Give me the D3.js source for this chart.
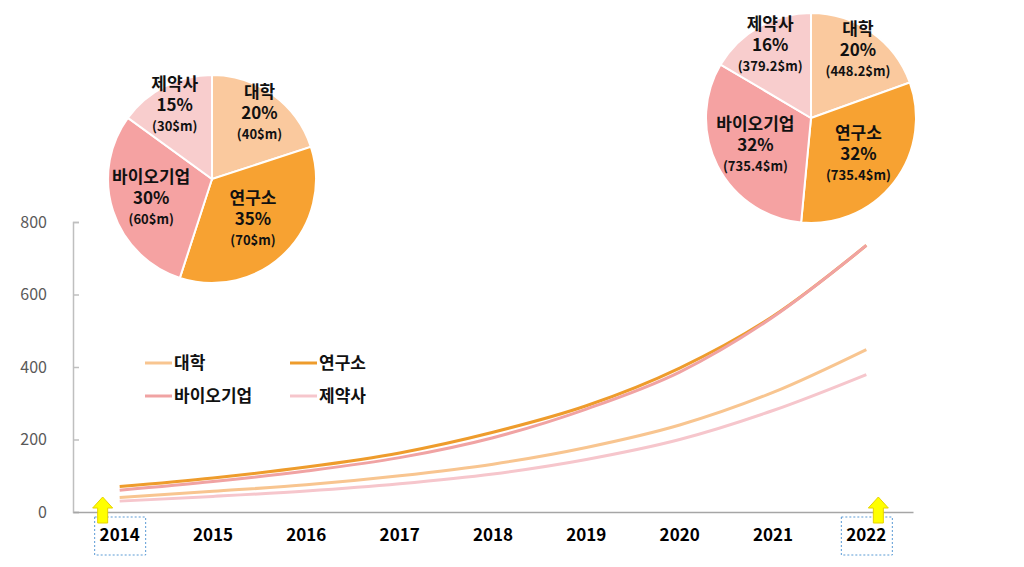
<!DOCTYPE html>
<html><head><meta charset="utf-8">
<script src="https://cdn.jsdelivr.net/npm/d3@7"></script>
<style>body{margin:0;background:#fff}svg{display:block}</style>
</head><body><svg id="c" width="1024" height="567"></svg>
<script>
const years = ["2014","2015","2016","2017","2018","2019","2020","2021","2022"];
const seriesNames = ["대학","연구소","바이오기업","제약사"];
const univ = [40, 57, 75, 100, 132, 178, 240, 330, 448.2];
const inst = [70, 94, 124, 163, 220, 293, 397, 540, 735.4];
const bio  = [60, 84, 113, 150, 205, 284, 386, 538, 735.4];
const pharm= [30, 43, 58, 78, 105, 145, 200, 280, 379.2];
const yTicks = [0, 200, 400, 600, 800];
const pie2014 = [40, 70, 60, 30];
const pct2014 = ["20%","35%","30%","15%"];
const val2014 = ["(40$m)","(70$m)","(60$m)","(30$m)"];
const pie2022 = [448.2, 735.4, 735.4, 379.2];
const pct2022 = ["20%","32%","32%","16%"];
const val2022 = ["(448.2$m)","(735.4$m)","(735.4$m)","(379.2$m)"];
const highlightYears = ["2014","2022"];

const pieColors = ["#FAC99E","#F7A232","#F5A2A2","#F8CDCD"];
const lineColors = ["#F8C590","#EE9C2C","#F0A3A3","#F6C6CC"];
const font = "'Noto Sans CJK KR','Noto Sans',sans-serif";

const svg = d3.select("#c");
const x = d3.scaleBand().domain(years).range([73, 913]);
const y = d3.scaleLinear().domain([0, 800]).range([512, 222]);

// y axis
const ya = svg.append("g").attr("transform","translate(73,0)")
  .call(d3.axisLeft(y).tickValues(yTicks).tickSize(-6).tickPadding(26));
ya.select(".domain").attr("stroke","#BFBFBF").attr("stroke-width",1.5);
ya.selectAll(".tick line").attr("stroke","#BFBFBF").attr("stroke-width",1.5);
ya.selectAll(".tick text").attr("font-family",font).attr("font-size",16).attr("fill","#595959");

// x axis
const xa = svg.append("g").attr("transform","translate(0,512)")
  .call(d3.axisBottom(x).tickSize(0).tickPadding(17).tickSizeOuter(0));
xa.select(".domain").attr("stroke","#A6A6A6").attr("stroke-width",1.5);
xa.selectAll(".tick text").attr("font-family",font).attr("font-size",17).attr("font-weight","bold").attr("fill","#000");

// dashed boxes
highlightYears.forEach(yr=>{
  const cx = x(yr)+x.bandwidth()/2;
  svg.append("rect").attr("x",cx-25).attr("y",517).attr("width",51).attr("height",38)
    .attr("fill","none").attr("stroke","#5B9BD5").attr("stroke-width",1).attr("stroke-dasharray","2,2");
});

// lines
const line = d3.line().x((d,i)=>x(years[i])+x.bandwidth()/2).y(d=>y(d)).curve(d3.curveMonotoneX);
const drawOrder = [[inst,1],[bio,2],[univ,0],[pharm,3]];
drawOrder.forEach(([arr,ci])=>{
  svg.append("path").attr("d",line(arr)).attr("fill","none")
    .attr("stroke",lineColors[ci]).attr("stroke-width",3).attr("stroke-linejoin","round");
});

// arrows
function arrow(cx){
  const p = d3.path();
  p.moveTo(cx,497); p.lineTo(cx+10,508); p.lineTo(cx+5,508); p.lineTo(cx+5,523);
  p.lineTo(cx-5,523); p.lineTo(cx-5,508); p.lineTo(cx-10,508); p.closePath();
  svg.append("path").attr("d",p.toString()).attr("fill","#FFFF00").attr("stroke","#E6D200").attr("stroke-width",1);
}
arrow(x("2014")+x.bandwidth()/2-17);
arrow(x("2022")+x.bandwidth()/2+12);

// legend
const legendPos = [[145,363],[290,363],[145,396],[290,396]];
seriesNames.forEach((n,i)=>{
  const [lx,ly] = legendPos[i];
  svg.append("line").attr("x1",lx).attr("x2",lx+27).attr("y1",ly).attr("y2",ly)
    .attr("stroke",lineColors[i]).attr("stroke-width",3);
  svg.append("text").attr("x",lx+29).attr("y",ly+6).text(n)
    .attr("font-family",font).attr("font-size",17).attr("font-weight","bold").attr("fill","#111");
});

// pies
function drawPie(vals, pcts, valsTxt, cx, cy, r){
  const pie = d3.pie().sort(null)(vals);
  const arc = d3.arc().innerRadius(0).outerRadius(r);
  const g = svg.append("g").attr("transform",`translate(${cx},${cy})`);
  g.selectAll("path").data(pie).join("path").attr("d",arc)
    .attr("fill",(d,i)=>pieColors[i]).attr("stroke","#fff").attr("stroke-width",2);
  pie.forEach((d,i)=>{
    const mid = (d.startAngle+d.endAngle)/2;
    const lr = r*(0.66+0.145*Math.cos(mid));
    const lx = lr*Math.sin(mid), ly = -lr*Math.cos(mid);
    const t = g.append("text").attr("text-anchor","middle").attr("font-family",font).attr("font-weight","bold").attr("fill","#111");
    t.append("tspan").attr("x",lx).attr("y",ly-16).attr("font-size",17).text(seriesNames[i]);
    t.append("tspan").attr("x",lx).attr("y",ly+5).attr("font-size",17).text(pcts[i]);
    t.append("tspan").attr("x",lx).attr("y",ly+25).attr("font-size",13).text(valsTxt[i]);
  });
}
drawPie(pie2014, pct2014, val2014, 212, 179, 104);
drawPie(pie2022, pct2022, val2022, 811, 118, 105);
</script></body></html>
